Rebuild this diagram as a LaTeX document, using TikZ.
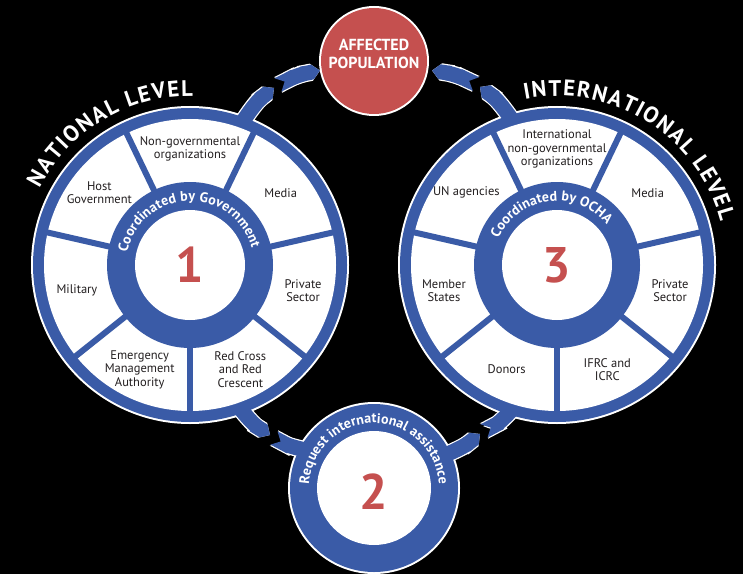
\documentclass[tikz,border=0pt]{standalone}
\usepackage{fontspec}
\setmainfont{PT Sans}
\usepackage{tikz}
\usetikzlibrary{arrows.meta, decorations.text, positioning}
\definecolor{ochablue}{HTML}{3A5BA7}
\definecolor{ochared}{HTML}{C5504F}
\definecolor{labelgray}{HTML}{231F20}

\tikzset{
  hold/.style={circle, inner sep=0pt, outer sep=0pt},
  band/.style={draw=ochablue, line width=15pt, preaction={draw=white, line width=17.5pt}},
  spoke/.style={draw=ochablue, line width=6pt},
  sector/.style={align=center, text=labelgray, font=\fontsize{12.5}{13.5}\selectfont},
  bignum/.style={text=ochared, font=\bfseries\fontsize{50}{50}\selectfont},
  ringtext/.style={decorate, decoration={text along path, text align=fit to path,
      text color=white, text={#1}}},
}

\begin{document}
\begin{tikzpicture}[x=1pt, y=1pt]
    \useasboundingbox (0,0) rectangle (743,574);
    \fill[black] (0,0) rectangle (743,574);

    % the four circles
    \node[hold, minimum size=314pt] (nat) at (190,309) {};
    \node[hold, minimum size=314pt] (intl) at (557,309) {};
    \node[hold, minimum size=110pt] (aff) at (374,513) {};
    \node[hold, minimum size=168pt] (req) at (374,86) {};

    \foreach \n/\r in {nat/159pt, intl/159pt, req/86pt, aff/55pt}
      \fill[white] (\n) circle[radius=\r];

    % chevron connectors
    \coordinate (tl-a) at ([shift={(70:150pt)}]nat.center);
    \coordinate (tl-b) at (274,486);
    \coordinate (tl-c) at (278,489);
    \draw[band, -{Triangle Cap}] (tl-a) to[bend left=10] (tl-b);
    \draw[band, {Triangle Cap[reversed]}-{Triangle Cap}] (tl-c) to[bend left=8] (aff.190);

    \coordinate (tr-a) at ([shift={(107:150pt)}]intl.center);
    \coordinate (tr-b) at (480,487);
    \coordinate (tr-c) at (476,490);
    \draw[band, -{Triangle Cap}] (tr-a) to[bend right=10] (tr-b);
    \draw[band, {Triangle Cap[reversed]}-{Triangle Cap}] (tr-c) to[bend right=8] ([xshift=4pt]aff.350);

    \coordinate (bl-a) at ([shift={(-71:150pt)}]nat.center);
    \coordinate (bl-b) at (270,139);
    \coordinate (bl-c) at (274,136);
    \coordinate (bl-d) at ([shift={(150:74pt)}]req.center);
    \draw[band, -{Triangle Cap}] (bl-a) to[bend right=10] (bl-b);
    \draw[band, {Triangle Cap[reversed]}-] (bl-c) to[bend right=8] (bl-d);

    \coordinate (br-a) at ([shift={(25:74pt)}]req.center);
    \coordinate (br-b) at (480,140);
    \coordinate (br-c) at (484,143);
    \coordinate (br-d) at ([shift={(-107:150pt)}]intl.center);
    \draw[band, -{Triangle Cap}] (br-a) to[bend right=8] (br-b);
    \draw[band, {Triangle Cap[reversed]}-] (br-c) to[bend right=10] (br-d);

    % wheels
    \foreach \n in {nat, intl}{
      \fill[ochablue] (\n) circle[radius=157pt];
      \fill[white] (\n) circle[radius=146pt];
      \foreach \k in {0,...,6}
        \draw[spoke] ([shift={(270-\k*51.43:80pt)}]\n.center) -- ([shift={(270-\k*51.43:147pt)}]\n.center);
      \fill[ochablue] (\n) circle[radius=83pt];
      \fill[white] (\n) circle[radius=55pt];
    }
    \fill[ochablue] (req) circle[radius=84pt];
    \fill[white] (req) circle[radius=57pt];
    \fill[ochared] (aff) circle[radius=53pt];

    % sector labels
    \foreach \a/\txt [count=\i] in {90/{Non-governmental\\organizations}, 38.57/Media,
        -12.86/{Private\\Sector}, -64.29/{Red Cross\\and Red\\Crescent},
        -115.71/{Emergency\\Management\\Authority}, -167.14/Military,
        141.43/{Host\\Government}}
      \node[sector] (nat-\i) at ([shift={(\a:116pt)}]nat.center) {\txt};
    \foreach \a/\txt [count=\i] in {90/{International\\non-governmental\\organizations},
        38.57/Media, -12.86/{Private\\Sector}, -64.29/{IFRC and\\ICRC},
        -115.71/Donors, -167.14/{Member\\States}, 141.43/{UN agencies}}
      \node[sector] (intl-\i) at ([shift={(\a:116pt)}]intl.center) {\txt};

    % numbers
    \node[bignum] (nat-num) at (nat) {1};
    \node[bignum] (req-num) at ([yshift=-4pt]req.center) {2};
    \node[bignum] (intl-num) at (intl) {3};
    \node[align=center, text=white, font=\bfseries\fontsize{16}{18}\selectfont]
      (aff-txt) at ([yshift=7pt]aff.center) {AFFECTED\\POPULATION};

    % curved titles
    \path[ringtext={|\bfseries\fontsize{22.5}{22.5}\selectfont|NATIONAL LEVEL}]
      ([shift={(153:169pt)}]nat.center) arc[start angle=153, end angle=89, radius=169pt];
    \path[ringtext={|\bfseries\fontsize{22.5}{22.5}\selectfont|INTERNATIONAL LEVEL}]
      ([shift={(101:169pt)}]intl.center) arc[start angle=101, end angle=15, radius=169pt];
    \path[ringtext={|\bfseries\fontsize{14}{14}\selectfont|Coordinated by Government}]
      ([shift={(169:64pt)}]nat.center) arc[start angle=169, end angle=15, radius=64pt];
    \path[ringtext={|\bfseries\fontsize{14}{14}\selectfont|Coordinated by OCHA}]
      ([shift={(156:64pt)}]intl.center) arc[start angle=156, end angle=39, radius=64pt];
    \path[ringtext={|\bfseries\fontsize{14}{14}\selectfont|Request international assistance}]
      ([shift={(177:65pt)}]req.center) arc[start angle=177, end angle=3, radius=65pt];
\end{tikzpicture}
\end{document}
